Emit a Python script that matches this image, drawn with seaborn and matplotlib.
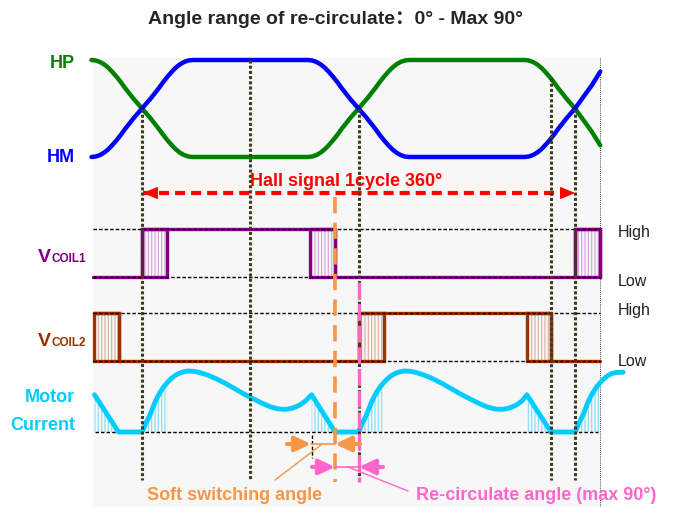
import numpy as np
import matplotlib
matplotlib.use("Agg")
import matplotlib.pyplot as plt
from matplotlib.patches import Rectangle
import seaborn as sns

sns.set_style("white")
plt.rcParams["font.family"] = ["Liberation Sans", "Noto Sans CJK SC", "DejaVu Sans"]
plt.rcParams["hatch.linewidth"] = 0.8

# =============================================================================
# DATA  (x = electrical angle in degrees, 0 = first Hall crossing)
# =============================================================================
hall_deg = [-42, -38.5, -35, -31.5, -28, -24.5, -21, -17.5, -14, -10.5, -7, -3.5, 0,
            3.5, 7, 10.5, 14, 17.5, 21, 24.5, 28, 31.5, 35, 38.5, 42,
            138, 141.5, 145, 148.5, 152, 155.5, 159, 162.5, 166, 169.5, 173, 176.5, 180,
            183.5, 187, 190.5, 194, 197.5, 201, 204.5, 208, 211.5, 215, 218.5, 222,
            318, 321.5, 325, 328.5, 332, 335.5, 339, 342.5, 346, 349.5, 353, 356.5, 360,
            363.5, 367, 370.5, 374, 377.5, 381]
hp_level = [1.0, .995, .98, .955, .92, .875, .825, .77, .71, .655, .6, .55, .5,
            .45, .4, .345, .29, .23, .175, .125, .08, .045, .02, .005, 0,
            0, .005, .02, .045, .08, .125, .175, .23, .29, .345, .4, .45, .5,
            .55, .6, .655, .71, .77, .825, .875, .92, .955, .98, .995, 1.0,
            1.0, .995, .98, .955, .92, .875, .825, .77, .71, .655, .6, .55, .5,
            .44, .38, .32, .26, .19, .12]
hm_level = [1 - v for v in hp_level]

coil1_deg = [-40.7, 0, 0, 160.5, 160.5, 360, 360, 381, 381]
coil1_level = [0, 0, 1, 1, 0, 0, 1, 1, 0]
coil1_pwm = [(0, 21), (139.5, 160.5), (360, 381)]

coil2_deg = [-40, -19, -19, 180, 180, 340, 340, 381]
coil2_level = [1, 1, 0, 0, 1, 1, 0, 0]
coil2_pwm = [(-40, -19), (180, 201), (320, 340)]

current_deg = [-39.5, -19.5,
               0, 1.5, 3, 5, 7, 9, 11, 13, 15, 18, 21, 24, 27, 30, 34, 38, 43, 48,
               55, 62, 70, 78, 86, 94, 100, 107, 113, 119, 125, 131, 136, 141, 160.5,
               180, 181.5, 183, 185, 187, 189, 191, 193, 195, 198, 201, 204, 207, 210,
               214, 218, 223, 228, 235, 242, 250, 258, 266, 274, 280, 287, 293, 299,
               305, 311, 316, 320, 340,
               360, 361.5, 363, 365, 367, 369, 371, 373, 375, 378, 381, 384, 387, 390,
               394, 400]
current_level = [.61, 0,
                 0, .07, .14, .21, .30, .40, .50, .58, .65, .74, .81, .87, .92, .955, .985, 1.0, .995, .975,
                 .93, .87, .79, .70, .61, .53, .47, .41, .38, .37, .39, .44, .51, .61, 0,
                 0, .07, .14, .21, .30, .40, .50, .58, .65, .74, .81, .87, .92, .955,
                 .985, 1.0, .995, .975, .93, .87, .79, .70, .61, .53, .47, .41, .38, .37,
                 .39, .44, .51, .61, 0,
                 0, .07, .14, .21, .30, .40, .50, .58, .65, .74, .81, .87, .92, .955,
                 .975, .98]
current_pwm = [(-39.5, -19.5), (0, 21), (141, 160.5), (180, 201), (320, 340), (360, 381)]

marker_deg = [0, 90, 180, 340, 360]
soft_switch_deg = 160.5
recirc_deg = 180
soft_start_deg = 141

# =============================================================================
# LAYOUT  (pixels of the 675x507 canvas)
# =============================================================================
PX0, PX_PER_DEG = 142, 1.2028


def px(xp):
    return (xp - PX0) / PX_PER_DEG


def ft(x, y):
    return x / 675, 1 - y / 507


HALL = (157, 97)
COIL1 = (277, 48)
COIL2 = (361, 48)
CUR = (432, 61)

GREEN, BLUE = "#008000", "#0000FF"
PURPLE, BROWN, CYAN = "#800080", "#993300", "#00CCFF"
ORANGE, PINK, RED, OLIVE = "#F79646", "#FF66CC", "#FF0000", "#3F3C1E"

fig = plt.figure(figsize=(6.75, 5.07), dpi=100)
ax = fig.add_axes([0, 0, 1, 1])

# panel
ax.add_patch(Rectangle((px(93), 58), px(600) - px(93), 449, fc="#F7F7F7", ec="none", zorder=0))
ax.plot([px(600)] * 2, [58, 507], color="k", lw=0.6, ls=(0, (1, 1.5)), zorder=1)

# Hall signals
hp = np.array(hp_level)
hm = np.array(hm_level)
sns.lineplot(x=hall_deg, y=HALL[0] - HALL[1] * hp, ax=ax, color=GREEN, lw=3.2,
             sort=False, estimator=None, solid_capstyle="round", zorder=4)
sns.lineplot(x=hall_deg, y=HALL[0] - HALL[1] * hm, ax=ax, color=BLUE, lw=3.2,
             sort=False, estimator=None, solid_capstyle="round", zorder=4)

# angle marker lines
top = np.maximum(hp, hm)
for d in marker_deg:
    y0 = HALL[0] - HALL[1] * np.interp(d, hall_deg, top)
    ax.plot([d, d], [y0, 480], color=OLIVE, lw=2.2, ls=(0, (1, 0.7)), zorder=6)

# Hall cycle arrow
ax.plot([0.8, 360], [193, 193], color=RED, lw=3, ls=(0, (2.4, 1.45)), zorder=5)
for tip, tail in [(0.8, 12), (360, 349)]:
    ax.annotate("", xy=(tip, 193), xytext=(tail, 193), zorder=5,
                arrowprops=dict(arrowstyle="-|>,head_length=0.9,head_width=0.38",
                                color=RED, lw=1, shrinkA=0, shrinkB=0))
ax.text(px(346), 182, "Hall signal 1cycle 360°", color=RED, fontsize=13,
        fontweight="bold", ha="center", va="center", zorder=7)


def coil(deg, level, pwm, band, color, hatch_color):
    base, amp = band
    lv = np.array(level)
    sns.lineplot(x=deg, y=base - amp * lv, ax=ax, color=color, lw=2.4,
                 sort=False, estimator=None, zorder=4)
    for a, b in pwm:
        ax.add_patch(Rectangle((a, base - amp), b - a, amp, fc="none", ec=hatch_color,
                               hatch="|" * 5, lw=0, zorder=3))
        ax.add_patch(Rectangle((a, base - amp), b - a, amp, fill=False, ec=color,
                               lw=2.4, zorder=4))
    ax.hlines([base - amp, base], px(93), px(600), colors="k", lw=1,
              linestyles=[(0, (2.5, 1.5))], zorder=5)


coil(coil1_deg, coil1_level, coil1_pwm, COIL1, PURPLE, "#D9A0D9")
coil(coil2_deg, coil2_level, coil2_pwm, COIL2, BROWN, "#D8B09C")

# motor current
cur = np.array(current_level)
for a, b in current_pwm:
    xs = np.linspace(a, b, 40)
    ys = np.interp(xs, current_deg, cur)
    ax.fill_between(xs, CUR[0], CUR[0] - CUR[1] * ys, facecolor="none",
                    edgecolor="#7FDDF8", hatch="|" * 5, linewidth=0, zorder=2)
ax.hlines(CUR[0], px(95), px(598), colors="k", lw=1, linestyles=[(0, (2.5, 1.5))], zorder=3)
sns.lineplot(x=current_deg, y=CUR[0] - CUR[1] * cur, ax=ax, color=CYAN, lw=3.5,
             sort=False, estimator=None, solid_capstyle="round", zorder=4)

# soft switching / re-circulate markers
ax.plot([soft_switch_deg] * 2, [197, 482], color=ORANGE, lw=2.6, ls=(0, (4.5, 2.6)), zorder=7)
ax.plot([recirc_deg] * 2, [282, 482], color=PINK, lw=2.4, ls=(0, (5, 1.5)), zorder=7)
ax.plot([soft_start_deg] * 2, [435, 458], color="k", lw=1, ls=(0, (2.5, 1.5)), zorder=6)


def arrow(tip, tail, y, color):
    ax.annotate("", xy=(tip, y), xytext=(tail, y), zorder=8,
                arrowprops=dict(arrowstyle="-|>,head_length=0.95,head_width=0.45",
                                color=color, lw=3, shrinkA=0, shrinkB=0))


ax.plot([px(311), px(335)], [444, 444], color=ORANGE, lw=1.2, zorder=8)
arrow(px(311), px(287), 444, ORANGE)
arrow(px(335), px(360), 444, ORANGE)
ax.plot([px(275), px(321)], [480, 445], color=ORANGE, lw=1, zorder=8)

ax.plot([px(335), px(359)], [467, 467], color=PINK, lw=1.2, zorder=8)
arrow(px(335), px(312), 467, PINK)
arrow(px(359), px(383), 467, PINK)
ax.plot([px(348), px(408)], [467, 491], color=PINK, lw=1, zorder=8)

ax.set_xlim(px(0), px(675))
ax.set_ylim(507, 0)
ax.axis("off")

# labels
fig.text(*ft(335, 20), "Angle range of re-circulate：0° - Max 90°", fontsize=14,
         fontweight="bold", ha="center", va="center")
fig.text(*ft(75, 64), "HP", color=GREEN, fontsize=13, fontweight="bold", ha="right", va="center")
fig.text(*ft(75, 158), "HM", color=BLUE, fontsize=13, fontweight="bold", ha="right", va="center")
for yb, color, name in [(262, PURPLE, "COIL1"), (346, BROWN, "COIL2")]:
    fig.text(*ft(51, yb), "V", color=color, fontsize=14, fontweight="bold", ha="right", va="baseline")
    fig.text(*ft(51, yb), name, color=color, fontsize=8.5, fontweight="bold", ha="left", va="baseline")
fig.text(*ft(75, 398), "Motor", color=CYAN, fontsize=13, fontweight="bold", ha="right", va="center")
fig.text(*ft(75, 425), "Current", color=CYAN, fontsize=13, fontweight="bold", ha="right", va="center")
for yy, s in [(232, "High"), (282, "Low"), (310, "High"), (362, "Low")]:
    fig.text(*ft(618, yy), s, color="#222222", fontsize=11.5, ha="left", va="center")
fig.text(*ft(235, 496), "Soft switching angle", color=ORANGE, fontsize=13,
         fontweight="bold", ha="center", va="center")
fig.text(*ft(536, 496), "Re-circulate angle (max 90°)", color=PINK, fontsize=13,
         fontweight="bold", ha="center", va="center")

fig.savefig("out.png", dpi=100)
